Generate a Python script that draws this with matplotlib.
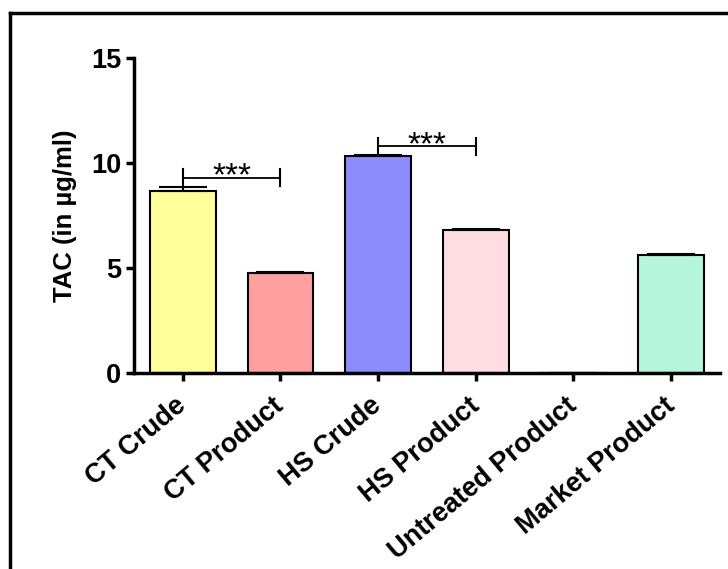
import matplotlib
matplotlib.use("Agg")
import matplotlib.pyplot as plt
from matplotlib.lines import Line2D
from matplotlib.transforms import ScaledTranslation

plt.rcParams['font.family'] = ['Liberation Sans', 'DejaVu Sans']
plt.rcParams['font.weight'] = 'bold'

categories = ["CT Crude", "CT Product", "HS Crude", "HS Product",
              "Untreated Product", "Market Product"]
tac_values = [8.67, 4.78, 10.32, 6.81, 0.0, 5.62]
tac_errors = [0.19, 0.03, 0.06, 0.03, 0.0, 0.03]
bar_colors = ["#FFFF99", "#FF9F9F", "#8C8CFF", "#FFDDE0", "#FFFFFF", "#B4F5DC"]
# significance brackets: (left index, right index, bracket height, label)
brackets = [(0, 1, 9.3, "***"), (2, 3, 10.8, "***")]

fig = plt.figure(figsize=(7.28, 5.69), dpi=100)
ax = fig.add_axes([0.184, 0.3445, 0.805, 0.5535])

x = list(range(len(categories)))
ax.bar(x, tac_values, width=0.67, color=bar_colors, edgecolor="black",
       linewidth=1.5, zorder=2)
ax.errorbar(x, tac_values, yerr=[[0] * len(tac_errors), tac_errors],
            fmt="none", ecolor="black", elinewidth=1.5, capsize=17,
            capthick=1.5, zorder=3)

for i, j, h, label in brackets:
    tick = 0.4
    ax.plot([i, j], [h, h], color="black", lw=1.3, zorder=4)
    ax.plot([i, i], [tac_values[i] + tac_errors[i] - 0.05, h + tick],
            color="black", lw=1.5, zorder=4)
    ax.plot([j, j], [h - tick, h + tick], color="black", lw=1.5, zorder=4)
    ax.text((i + j) / 2, h - 0.38, label, ha="center", va="baseline",
            fontsize=24, fontweight="normal")

ax.set_xlim(-0.5, 5.5)
ax.set_ylim(0, 15)
ax.set_yticks([0, 5, 10, 15])
ax.set_xticks(x)
ax.set_xticklabels(categories, rotation=40, ha="right",
                   rotation_mode="anchor", fontsize=19.5, fontweight="bold")
ax.tick_params(axis="x", direction="out", length=6, width=2.5, pad=8)
ax.tick_params(axis="y", direction="out", length=6, width=2.5,
               labelsize=19.5, pad=3)
shift = ScaledTranslation(-8 / 100, 0, fig.dpi_scale_trans)
for lab in ax.get_xticklabels():
    lab.set_transform(lab.get_transform() + shift)
for lab in ax.get_yticklabels():
    lab.set_fontweight("bold")
ax.set_ylabel("TAC (in µg/ml)", fontsize=18.5, fontweight="bold", labelpad=10)

for side in ("top", "right"):
    ax.spines[side].set_visible(False)
for side in ("left", "bottom"):
    ax.spines[side].set_linewidth(2.5)

# frame lines along the top and left of the figure
fig.add_artist(Line2D([10 / 728, 1.0], [1 - 13 / 569, 1 - 13 / 569],
                      transform=fig.transFigure, color="black", lw=2.5))
fig.add_artist(Line2D([10 / 728, 10 / 728], [0.0, 1 - 13 / 569],
                      transform=fig.transFigure, color="black", lw=2.5))

fig.savefig("out.png", dpi=100)
